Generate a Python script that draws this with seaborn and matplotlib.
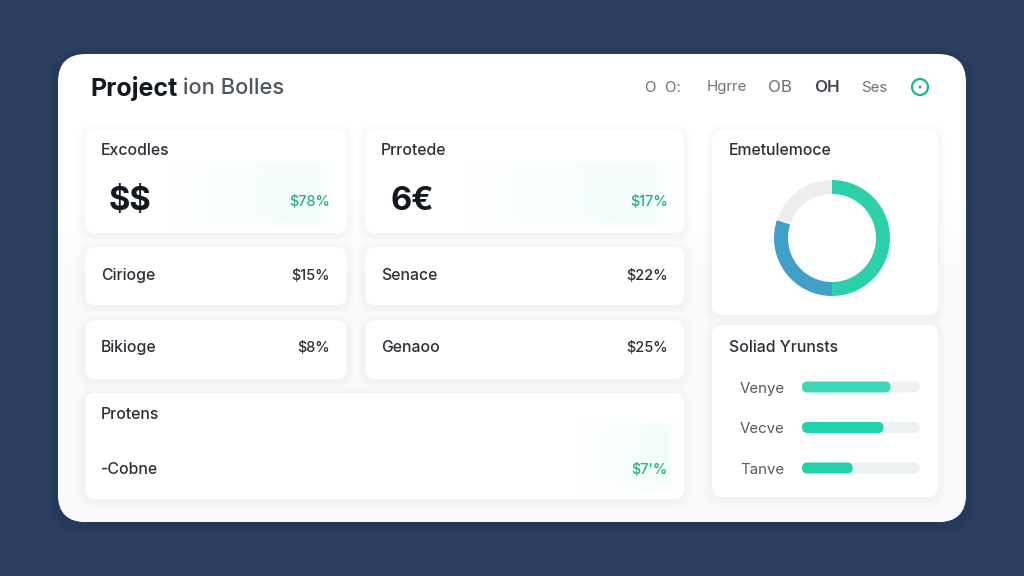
import numpy as np
import matplotlib
matplotlib.use("Agg")
import matplotlib.pyplot as plt
from matplotlib.colors import to_rgb
from matplotlib.patches import FancyBboxPatch, Circle
from matplotlib.transforms import IdentityTransform
import seaborn as sns

W, H = 1024, 576

# values
title_dark = "Project"
title_light = "ion Bolles"
nav_items = ["O  O:", "Hgrre", "OB", "OH", "Ses"]
big_labels = ["Excodles", "Prrotede"]
big_values = ["$$", "6€"]
big_changes = ["$78%", "$17%"]
row_left = ["Cirioge", "Bikioge"]
row_left_values = ["$15%", "$8%"]
row_right = ["Senace", "Genaoo"]
row_right_values = ["$22%", "$25%"]
wide_labels = ["Protens", "-Cobne"]
wide_value = "$7'%"
donut_title = "Emetulemoce"
donut_values = [50, 30, 20]
donut_colors = ["#2dd0aa", "#41a0c8", "#eeeeee"]
bars_title = "Soliad Yrunsts"
bar_labels = ["Venye", "Vecve", "Tanve"]
bar_values = [75, 69, 43]
bar_track = [100, 100, 100]
bar_colors = ["#3bd9b8", "#1fd2ab", "#22d0aa"]

NAVY = "#2a3f5f"
INK = "#14181f"
TEXT = "#2b2f36"
GREY = "#6d7278"
GREEN = "#25b088"
FONT = "Inter"

sns.set_theme(style="white")
plt.rcParams["font.family"] = [FONT, "DejaVu Sans"]

fig = plt.figure(figsize=(W / 100, H / 100), dpi=100, facecolor=NAVY)
page = fig.add_axes([0, 0, 1, 1])
page.set_axis_off()


def box(x0, y0, x1, y1, r, color, **kw):
    p = FancyBboxPatch((x0 + r, y0 + r), x1 - x0 - 2 * r, y1 - y0 - 2 * r,
                       boxstyle=f"round,pad={r},rounding_size={r}",
                       facecolor=color, edgecolor="none", **kw)
    page.add_patch(p)
    return p


def mint(x0, y0, x1, y1, alpha=0.55):
    # faint mint glow behind the change figures, fading out on every side
    n = 64
    t = np.linspace(0, 1, n)
    across = t ** 0.7 * np.clip((1 - t) / 0.15, 0, 1)
    down = np.clip(np.sin(t * np.pi) * 2, 0, 1)
    col = np.ones((n, n, 4))
    col[..., :3] = to_rgb("#e6faf3")
    col[..., 3] = np.outer(down, across) * alpha
    page.imshow(col, extent=[x0, x1, y1, y0], aspect="auto", zorder=2, interpolation="bilinear")


def inset(x0, y0, x1, y1):
    ax = fig.add_axes([x0 / W, 1 - y1 / H, (x1 - x0) / W, (y1 - y0) / H])
    ax.patch.set_alpha(0)
    return ax


# outer panel
for grow in range(10, 0, -2):
    box(58 - grow, 54 - grow + 4, 966 + grow, 522 + grow + 4, 28 + grow, "#1b2c45", alpha=0.03)
main = box(58, 54, 966, 522, 28, "#ffffff")

body = np.ones((64, 1, 4))
body[..., :3] = to_rgb("#f8fafc")
body[..., 3] = np.clip(np.linspace(-1.2, 4, 64), 0, 1)[:, None]
im = page.imshow(body, extent=[58, 966, 522, 100], aspect="auto", zorder=1)
im.set_clip_path(main)

# the cards
page_cards = [(85, 130, 347, 233), (365, 130, 684, 233), (85, 247, 347, 305), (365, 247, 684, 305),
              (85, 320, 347, 379), (365, 320, 684, 379), (85, 393, 684, 499),
              (712, 130, 938, 315), (712, 325, 938, 497)]
for c in page_cards:
    for grow in range(8, 0, -1):
        box(c[0] - grow, c[1] - grow + 2, c[2] + grow, c[3] + grow + 2, 10 + grow,
            "#a8b6c2", alpha=0.006, zorder=1.5)
    box(c[0], c[1], c[2], c[3], 10, "#ffffff", zorder=1.6)

mint(165, 158, 338, 232)
mint(465, 158, 678, 232)
mint(575, 415, 682, 494, alpha=0.5)

page.set_xlim(0, W)
page.set_ylim(H, 0)


def label(x, y, s, size=11.4, color=TEXT, weight="medium", ha="left"):
    page.text(x, y + 1.5, s, fontsize=size, color=color, fontweight=weight, ha=ha, va="center",
              zorder=5, parse_math=False)


# header
label(90, 87, title_dark, 18, INK, "bold")
label(183, 87, title_light, 15.8, "#50555c", "medium")
for x, s, c, w, fs in zip([645, 707, 768, 814, 861], nav_items,
                          [GREY, GREY, GREY, "#44484e", GREY],
                          ["normal", "normal", "normal", "semibold", "normal"],
                          [10.8, 10.8, 12.2, 12.2, 10.8]):
    label(x, 86, s, fs, c, w)
page.add_patch(Circle((920, 87), 8, facecolor="white", edgecolor="#22b48c", lw=1.6, zorder=5))
page.add_patch(Circle((920, 87), 1.5, facecolor="#22b48c", edgecolor="none", zorder=6))

# top cards
for x, right, name, val, chg in zip([101, 381], [329, 667], big_labels, big_values, big_changes):
    label(x, 149, name)
    label(x + (8 if x == 101 else 10), 200, val, 23.5, INK, "bold")
    label(right + 1, 200, chg, 10.4, GREEN, "medium", ha="right")

# rows
for y, a, av, b, bv in zip([274, 346], row_left, row_left_values, row_right, row_right_values):
    label(101, y, a)
    label(330, y, av, 10.4, ha="right")
    label(381, y, b)
    label(668, y, bv, 10.4, ha="right")

# bottom card
label(101, 413, wide_labels[0])
label(101, 468, wide_labels[1])
label(668, 468, wide_value, 10.4, GREEN, "medium", ha="right")

# donut
label(729, 149, donut_title)
ax_donut = inset(774, 180, 890, 296)
ax_donut.pie(donut_values, colors=donut_colors, startangle=90, counterclock=False, radius=1,
             wedgeprops={"width": 14 / 58, "linewidth": 0})
ax_donut.set_xlim(-1, 1)
ax_donut.set_ylim(-1, 1)

# bars
label(729, 346, bars_title)
ax_bars = inset(802, 366.75, 920, 488.25)
sns.barplot(x=bar_track, y=bar_labels, color="#eef1f2", width=0.27, ax=ax_bars, saturation=1)
sns.barplot(x=bar_values, y=bar_labels, hue=bar_labels, palette=bar_colors, width=0.27,
            legend=False, ax=ax_bars, saturation=1)
ax_bars.set_xlim(0, 100)
ax_bars.set_ylim(2.5, -0.5)
ax_bars.set_xlabel("")
ax_bars.set_ylabel("")
ax_bars.set_xticks([])
ax_bars.tick_params(axis="y", length=0, pad=12.5, labelsize=10.8, labelcolor="#55595f")
sns.despine(ax=ax_bars, left=True, bottom=True)

# swap each seaborn bar for a rounded one of the same size
for bar in list(ax_bars.patches):
    bb = bar.get_window_extent()
    if bb.width == 0:
        continue
    r = bb.height / 2
    ax_bars.add_patch(FancyBboxPatch((bb.x0 + r, bb.y0 + r), bb.width - 2 * r, bb.height - 2 * r,
                                     boxstyle=f"round,pad={r},rounding_size={r}",
                                     facecolor=bar.get_facecolor(), edgecolor="none",
                                     transform=IdentityTransform(), clip_on=False))
    bar.set_visible(False)

fig.savefig("out.png", dpi=100, facecolor=NAVY)
